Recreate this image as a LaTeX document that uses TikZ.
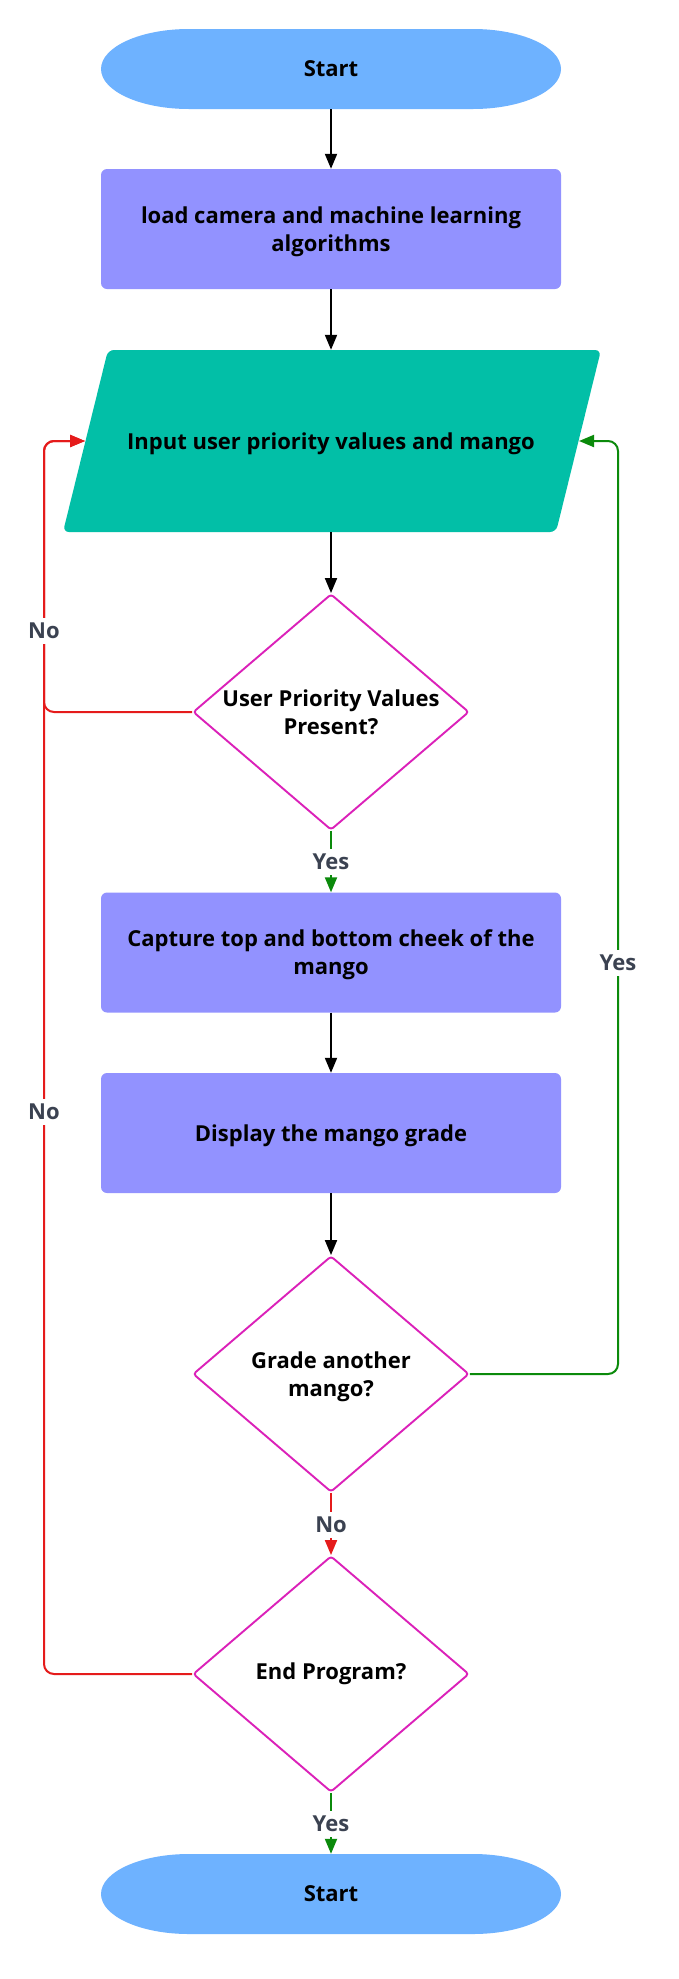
\documentclass[tikz,border=0pt]{standalone}
\usepackage{fontspec}
\setmainfont{Open Sans}
\usetikzlibrary{arrows.meta,shapes.geometric}
\definecolor{termblue}{HTML}{6EB2FF}
\definecolor{procblue}{HTML}{9292FF}
\definecolor{ioteal}{HTML}{02BFA7}
\definecolor{decmag}{HTML}{DB21B9}
\definecolor{nored}{HTML}{E51B1B}
\definecolor{yesgreen}{HTML}{0B8A0B}
\definecolor{lblgray}{HTML}{3B4251}
\begin{document}
\begin{tikzpicture}[x=1pt,y=1pt,
  txt/.style={font=\fontsize{22}{28}\selectfont\bfseries, align=center, text=black},
  termnode/.style={txt, rectangle, minimum width=460pt, minimum height=80pt, inner sep=0pt},
  procbox/.style={txt, rectangle, rounded corners=6pt, fill=procblue, minimum width=460pt, minimum height=120pt, inner sep=0pt},
  decision/.style={diamond, draw=decmag, line width=1.9pt, fill=white, minimum width=276pt, minimum height=236pt, inner sep=0pt, rounded corners=3pt},
  dtext/.style={txt, inner sep=0pt},
  tip/.style={-{Triangle[length=15pt,width=12pt]}},
  conn/.style={line width=2pt, black, tip},
  noconn/.style={line width=2pt, nored, tip, rounded corners=10pt},
  yesconn/.style={line width=2pt, yesgreen, tip, rounded corners=10pt},
  lbl/.style={fill=white, text=lblgray, font=\fontsize{22}{24}\selectfont\bfseries, inner xsep=2pt, inner ysep=5pt}]
\useasboundingbox (0,0) rectangle (678,-1979);
\fill[white] (0,0) rectangle (678,-1979);

% terminals
\fill[termblue] (189,-29) -- (473,-29) arc[start angle=90,end angle=-90,x radius=88pt,y radius=40pt] -- (189,-109) arc[start angle=270,end angle=90,x radius=88pt,y radius=40pt] -- cycle;
\node[termnode] (start) at (331,-69) {Start};

\fill[termblue] (189,-1854) -- (473,-1854) arc[start angle=90,end angle=-90,x radius=88pt,y radius=40pt] -- (189,-1934) arc[start angle=270,end angle=90,x radius=88pt,y radius=40pt] -- cycle;
\node[termnode] (end) at (331,-1894) {Start};

% process boxes
\node[procbox] (load) at (331,-229) {};
\node[txt] (loadt) at ([yshift=-3pt]load.center) {load camera and machine learning\\algorithms};
\node[procbox] (cap) at (331,-952.5) {};
\node[txt] (capt) at ([yshift=-2pt]cap.center) {Capture top and bottom cheek of the\\mango};
\node[procbox] (disp) at (331,-1133) {};
\node[txt] (dispt) at ([yshift=-3pt]disp.center) {Display the mango grade};

% input parallelogram
\fill[ioteal, rounded corners=6pt] (108,-350) -- (601,-350) -- (556,-532) -- (63,-532) -- cycle;
\node[rectangle, minimum width=493pt, minimum height=182pt, inner sep=0pt] (inp) at (331,-441) {};
\node[txt] (inpt) at ([yshift=-3pt]inp.center) {Input user priority values and mango};
\coordinate (inL) at (85,-441);
\coordinate (inR) at (579,-441);
\coordinate (xL) at (44,0);
\coordinate (xR) at (618,0);

% decisions
\node[decision] (d1) at (331,-712) {};
\node[dtext] (d1t) at (d1.center) {User Priority Values\\Present?};
\node[decision] (d2) at (331,-1374) {};
\node[dtext] (d2t) at ([yshift=-3pt]d2.center) {Grade another\\mango?};
\node[decision] (d3) at (331,-1674) {};
\node[dtext] (d3t) at (d3.center) {End Program?};

% connectors
\draw[conn] (start) -- (load);
\draw[conn] (load) -- (inp);
\draw[conn] (inp) -- (d1);
\draw[yesconn] (d1) -- (cap);
\draw[conn] (cap) -- (disp);
\draw[conn] (disp) -- (d2);
\draw[noconn] (d2) -- (d3);
\draw[yesconn] (d3) -- (end);
\draw[noconn] (d1.west) -| (xL |- inL) -- (inL);
\draw[noconn] (d3.west) -| (xL |- inL) -- (inL);
\draw[yesconn] (d2.east) -| (xR |- inR) -- (inR);

% labels
\node[lbl] (l1) at (331,-862) {Yes};
\node[lbl] (l2) at (331,-1525) {No};
\node[lbl] (l3) at (331,-1824) {Yes};
\node[lbl] (l4) at (44,-631) {No};
\node[lbl] (l5) at (44,-1112) {No};
\node[lbl] (l6) at (618,-963) {Yes};
\end{tikzpicture}
\end{document}
